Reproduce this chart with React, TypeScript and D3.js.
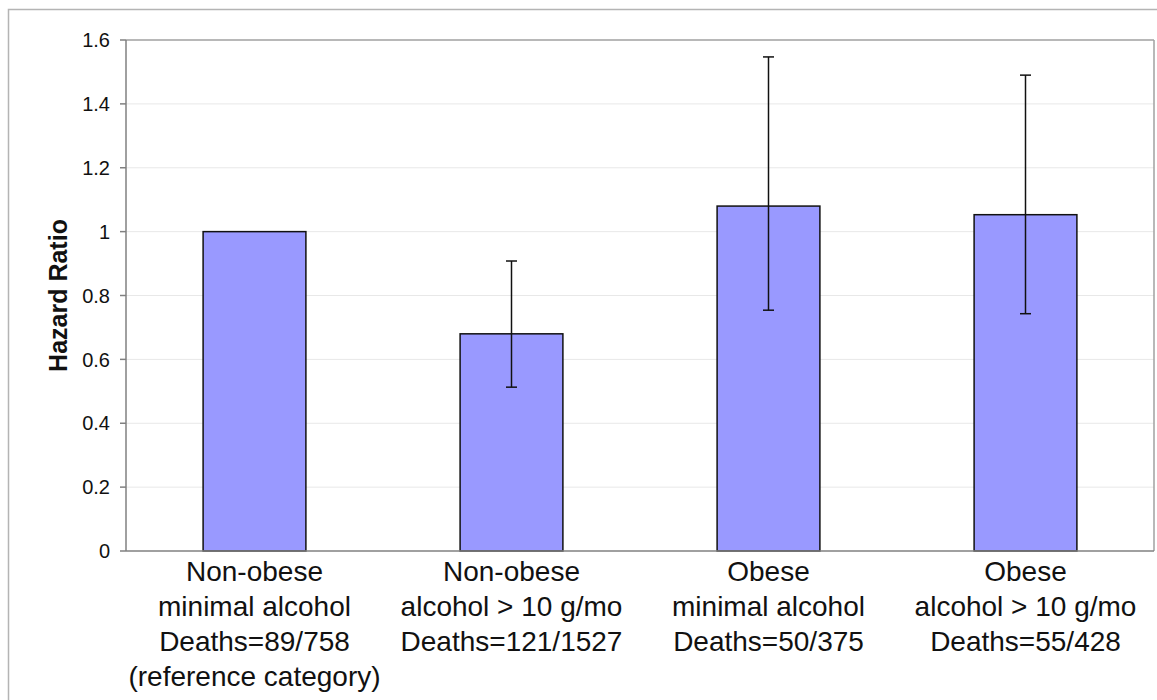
import React from "react"
import { scaleBand, scaleLinear } from "d3"

const categories = [
  ["Non-obese", "minimal alcohol", "Deaths=89/758", "(reference category)"],
  ["Non-obese", "alcohol > 10 g/mo", "Deaths=121/1527"],
  ["Obese", "minimal alcohol", "Deaths=50/375"],
  ["Obese", "alcohol > 10 g/mo", "Deaths=55/428"],
]
const hazardRatios = [1.0, 0.68, 1.08, 1.053]
const lowerCI: (number | null)[] = [null, 0.513, 0.754, 0.743]
const upperCI: (number | null)[] = [null, 0.908, 1.547, 1.49]
const yTicks = [0, 0.2, 0.4, 0.6, 0.8, 1, 1.2, 1.4, 1.6]

const W = 1157
const H = 700
const margin = { top: 40, right: 3, bottom: 149, left: 126 }

export default function App() {
  const keys = categories.map((_, i) => String(i))
  const x = scaleBand()
    .domain(keys)
    .range([margin.left, W - margin.right])
    .paddingInner(0.6)
    .paddingOuter(0.3)
  const y = scaleLinear()
    .domain([0, 1.6])
    .range([H - margin.bottom, margin.top])

  const plotW = W - margin.right - margin.left
  const font = "'Liberation Sans', Arial, sans-serif"

  return (
    <svg
      width={W}
      height={H}
      style={{ position: "absolute", left: 0, top: 0, background: "#fff" }}
      fontFamily={font}
    >
      {/* outer chart border */}
      <rect x={8.5} y={9.5} width={W} height={H} fill="none" stroke="#b4b4b4" strokeWidth={1.5} />

      {/* gridlines */}
      {yTicks.slice(1, -1).map((t) => (
        <line key={t} x1={margin.left} x2={margin.left + plotW} y1={y(t)} y2={y(t)} stroke="#e8e8e8" strokeWidth={1} />
      ))}

      {/* plot frame top/right */}
      <line x1={margin.left} x2={margin.left + plotW} y1={y(1.6)} y2={y(1.6)} stroke="#a0a0a0" strokeWidth={1.5} />
      <line x1={margin.left + plotW} x2={margin.left + plotW} y1={y(1.6)} y2={y(0)} stroke="#a0a0a0" strokeWidth={1.5} />

      {/* bars */}
      {hazardRatios.map((v, i) => (
        <rect
          key={i}
          x={x(String(i))}
          y={y(v)}
          width={x.bandwidth()}
          height={y(0) - y(v)}
          fill="#9999ff"
          stroke="#111"
          strokeWidth={1.5}
        />
      ))}

      {/* error bars */}
      {hazardRatios.map((_, i) => {
        const lo = lowerCI[i]
        const hi = upperCI[i]
        if (lo == null || hi == null) return null
        const cx = (x(String(i)) ?? 0) + x.bandwidth() / 2
        return (
          <g key={i} stroke="#111" strokeWidth={1.5}>
            <line x1={cx} x2={cx} y1={y(lo)} y2={y(hi)} />
            <line x1={cx - 5.5} x2={cx + 5.5} y1={y(lo)} y2={y(lo)} />
            <line x1={cx - 5.5} x2={cx + 5.5} y1={y(hi)} y2={y(hi)} />
          </g>
        )
      })}

      {/* axes */}
      <line x1={margin.left} x2={margin.left} y1={y(1.6)} y2={y(0)} stroke="#808080" strokeWidth={1.5} />
      <line x1={margin.left} x2={margin.left + plotW} y1={y(0)} y2={y(0)} stroke="#808080" strokeWidth={1.5} />
      {yTicks.map((t) => (
        <g key={t}>
          <line x1={margin.left - 6} x2={margin.left} y1={y(t)} y2={y(t)} stroke="#808080" strokeWidth={1.5} />
          <text x={margin.left - 16} y={y(t)} dy="0.36em" textAnchor="end" fontSize={20} fill="#111">
            {t}
          </text>
        </g>
      ))}

      {/* category labels */}
      {categories.map((lines, i) => {
        const cx = (x(String(i)) ?? 0) + x.bandwidth() / 2
        return (
          <text key={i} textAnchor="middle" fontSize={28} fill="#111">
            {lines.map((ln, j) => (
              <tspan key={j} x={cx} y={y(0) + 30 + j * 35}>
                {ln}
              </tspan>
            ))}
          </text>
        )
      })}

      {/* y axis title */}
      <text
        transform={`translate(67,${(y(0) + y(1.6)) / 2}) rotate(-90)`}
        textAnchor="middle"
        fontSize={25}
        fontWeight="bold"
        fill="#111"
      >
        Hazard Ratio
      </text>
    </svg>
  )
}
